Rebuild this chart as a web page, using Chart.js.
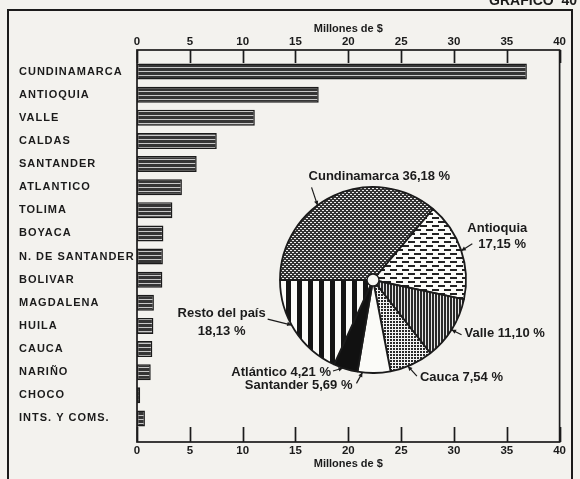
<!DOCTYPE html>
<html>
<head>
<meta charset="utf-8">
<script src="https://cdn.jsdelivr.net/npm/chart.js@4/dist/chart.umd.min.js"></script>
<style>
  html, body { margin: 0; padding: 0; background: #f3f2ee; }
  #wrap { position: relative; width: 580px; height: 479px; overflow: hidden; }
  #wrap canvas { position: absolute; left: 0; top: 0; }
</style>
</head>
<body>
<div id="wrap">
  <canvas id="barChart" width="580" height="479"></canvas>
  <canvas id="pieChart" width="580" height="479"></canvas>
</div>
<script>
// bar chart: amounts by department (millones de $)
const departments = ['CUNDINAMARCA', 'ANTIOQUIA', 'VALLE', 'CALDAS', 'SANTANDER', 'ATLANTICO', 'TOLIMA', 'BOYACA',
  'N. DE SANTANDER', 'BOLIVAR', 'MAGDALENA', 'HUILA', 'CAUCA', 'NARIÑO', 'CHOCO', 'INTS. Y COMS.'];
const amounts = [36.9, 17.2, 11.15, 7.55, 5.65, 4.25, 3.35, 2.5, 2.45, 2.4, 1.6, 1.55, 1.45, 1.3, 0.3, 0.75];
const axisTicks = [0, 5, 10, 15, 20, 25, 30, 35, 40];

// pie chart: share of total (%)
const pieLabels = ['Cundinamarca', 'Antioquia', 'Valle', 'Cauca', 'Santander', 'Atlántico', 'Resto del país'];
const pieShares = [36.18, 17.15, 11.10, 7.54, 5.69, 4.21, 18.13];

const ink = '#1b1b1b';
const paper = '#f3f2ee';
const labelFont = '"Liberation Sans", Arial, sans-serif';

function makePattern(w, h, paint) {
  const c = document.createElement('canvas');
  c.width = w; c.height = h;
  const g = c.getContext('2d');
  paint(g);
  return g.createPattern(c, 'repeat');
}

const barStripes = makePattern(1, 4, g => {
  g.fillStyle = '#353535'; g.fillRect(0, 0, 1, 3);
  g.fillStyle = '#c8c8c8'; g.fillRect(0, 3, 1, 1);
});
const dotted = makePattern(4, 4, g => {
  g.fillStyle = '#333'; g.fillRect(0, 0, 4, 4);
  g.fillStyle = '#eee'; g.fillRect(0, 0, 2, 1); g.fillRect(2, 2, 2, 1);
});
const dashes = makePattern(12, 8, g => {
  g.fillStyle = '#fbfbf8'; g.fillRect(0, 0, 12, 8);
  g.fillStyle = '#222'; g.fillRect(0, 1, 7, 2); g.fillRect(6, 5, 6, 2); g.fillRect(0, 5, 1, 2);
});
const fineLines = makePattern(3, 1, g => {
  g.fillStyle = '#2a2a2a'; g.fillRect(0, 0, 2, 1);
  g.fillStyle = '#e8e8e8'; g.fillRect(2, 0, 1, 1);
});
const stipple = makePattern(3, 3, g => {
  g.fillStyle = '#f4f4f4'; g.fillRect(0, 0, 3, 3);
  g.fillStyle = '#2a2a2a'; g.fillRect(0, 0, 2, 2);
});
const wideStripes = makePattern(11, 1, g => {
  g.fillStyle = '#fbfbf8'; g.fillRect(0, 0, 11, 1);
  g.fillStyle = '#151515'; g.fillRect(0, 0, 5, 1);
});

const framePlugin = {
  id: 'frame',
  beforeDraw(chart) {
    const { ctx, width, height } = chart;
    ctx.save();
    ctx.fillStyle = paper;
    ctx.fillRect(0, 0, width, height);
    ctx.strokeStyle = ink;
    ctx.lineWidth = 2;
    ctx.strokeRect(8, 10, 564, height + 10);
    ctx.fillStyle = ink;
    ctx.font = 'bold 14px ' + labelFont;
    ctx.textAlign = 'right';
    ctx.textBaseline = 'alphabetic';
    ctx.fillText('GRAFICO  40', 577, 5);
    ctx.restore();
  },
  beforeDatasetsDraw(chart) {
    const { ctx, chartArea: a, scales } = chart;
    const top = a.top - 10, bottom = a.bottom + 12;
    ctx.save();
    ctx.strokeStyle = ink;
    ctx.lineWidth = 1.7;
    ctx.strokeRect(a.left, top, a.right - a.left, bottom - top);
    ctx.beginPath();
    scales.x.ticks.forEach(t => {
      const px = Math.round(scales.x.getPixelForValue(t.value)) + 0.5;
      ctx.moveTo(px, top); ctx.lineTo(px, top + 13);
      ctx.moveTo(px, bottom - 15); ctx.lineTo(px, bottom);
    });
    ctx.stroke();
    ctx.restore();
  },
  // department names are drawn after the bars (ticks z: 1), spaced out like the print
  afterDatasetsDraw(chart) { chart.ctx.letterSpacing = '1px'; },
  afterDraw(chart) { chart.ctx.letterSpacing = '0px'; }
};

const valueAxis = (position, fit, tickPad, titlePad) => ({
  type: 'linear',
  position,
  min: 0,
  max: 40,
  afterBuildTicks: s => { s.ticks = axisTicks.map(v => ({ value: v })); },
  grid: { display: false, drawTicks: false },
  border: { display: false },
  ticks: { padding: tickPad, color: ink, font: { family: labelFont, size: 11.5, weight: 'bold' } },
  title: { display: true, text: 'Millones de $', color: ink, padding: titlePad,
    font: { family: labelFont, size: 11, weight: 'bold' } },
  afterFit: s => { s.height = fit; }
});

new Chart(document.getElementById('barChart'), {
  type: 'bar',
  data: {
    labels: departments,
    datasets: [{
      data: amounts,
      xAxisID: 'x',
      backgroundColor: barStripes,
      borderColor: ink,
      borderWidth: 1.5,
      borderSkipped: false,
      barPercentage: 0.69,
      categoryPercentage: 1
    }]
  },
  options: {
    indexAxis: 'y',
    responsive: false,
    animation: false,
    events: [],
    layout: { padding: { left: 19, right: 17, top: 0, bottom: 0 } },
    plugins: { legend: { display: false }, tooltip: { enabled: false } },
    scales: {
      y: {
        grid: { display: false, drawTicks: false },
        border: { display: false },
        ticks: { crossAlign: 'far', padding: 0, z: 1, color: ink,
          font: { family: labelFont, size: 11, weight: 'bold' } },
        afterFit: s => { s.width = 118; }
      },
      x: valueAxis('bottom', 49, 14, { top: 0, bottom: 8 }),
      x2: valueAxis('top', 60, 11, { top: 22, bottom: 0 })
    }
  },
  plugins: [framePlugin]
});

// where each pie caption sits: t = position along the slice, offsets from the rim point
const pieLabelLayout = [
  { t: 0.41, align: 'left', text: [[-9, -29]], lead: [-6, -18] },
  { t: 0.51, align: 'left', text: [[6, -22], [17, -6]], lead: [11, -7] },
  { t: 0.51, align: 'left', text: [[13, 4]], lead: [10, 5] },
  { t: 0.59, align: 'left', text: [[12, 11]], lead: [9, 10] },
  { t: 0.85, align: 'right', text: [[-10, 13]], lead: [-6, 11] },
  { t: 0.61, align: 'right', text: [[-12, 4]], lead: [-10, 3] },
  { t: 0.556, align: 'center', text: [[-70, -12], [-70, 6]], lead: [-24, -6] }
];

const pct = v => v.toFixed(2).replace('.', ',') + ' %';

const pieCaptions = {
  id: 'pieCaptions',
  afterDraw(chart) {
    const ctx = chart.ctx;
    const arcs = chart.getDatasetMeta(0).data;
    let cx = 0, cy = 0;
    ctx.save();
    ctx.fillStyle = ink;
    ctx.strokeStyle = ink;
    ctx.lineWidth = 1.2;
    ctx.font = 'bold 13px ' + labelFont;
    ctx.textBaseline = 'middle';
    arcs.forEach((arc, i) => {
      const { x, y, startAngle, endAngle, outerRadius } =
        arc.getProps(['x', 'y', 'startAngle', 'endAngle', 'outerRadius'], true);
      cx = x; cy = y;
      const L = pieLabelLayout[i];
      const ang = startAngle + (endAngle - startAngle) * L.t;
      const px = x + Math.cos(ang) * outerRadius;
      const py = y + Math.sin(ang) * outerRadius;
      const qx = px + L.lead[0], qy = py + L.lead[1];
      ctx.beginPath(); ctx.moveTo(qx, qy); ctx.lineTo(px, py); ctx.stroke();
      const d = Math.atan2(py - qy, px - qx);
      ctx.beginPath();
      ctx.moveTo(px, py);
      ctx.lineTo(px - 5 * Math.cos(d - 0.45), py - 5 * Math.sin(d - 0.45));
      ctx.lineTo(px - 5 * Math.cos(d + 0.45), py - 5 * Math.sin(d + 0.45));
      ctx.closePath(); ctx.fill();
      const lines = L.text.length > 1 ? [pieLabels[i], pct(pieShares[i])] : [pieLabels[i] + ' ' + pct(pieShares[i])];
      ctx.textAlign = L.align;
      lines.forEach((s, k) => ctx.fillText(s, px + L.text[k][0], py + L.text[k][1]));
    });
    // hub
    ctx.beginPath();
    ctx.arc(cx, cy, 6, 0, Math.PI * 2);
    ctx.fillStyle = '#f6f6f2';
    ctx.fill();
    ctx.lineWidth = 1.4;
    ctx.stroke();
    ctx.restore();
  }
};

new Chart(document.getElementById('pieChart'), {
  type: 'pie',
  data: {
    labels: pieLabels,
    datasets: [{
      data: pieShares,
      backgroundColor: [dotted, dashes, fineLines, stipple, '#fbfbf8', '#111', wideStripes],
      borderColor: ink,
      borderWidth: 1.8
    }]
  },
  options: {
    responsive: false,
    animation: false,
    events: [],
    rotation: -90,
    radius: 93,
    layout: { padding: { left: 280, right: 114, top: 187, bottom: 106 } },
    plugins: { legend: { display: false }, tooltip: { enabled: false } }
  },
  plugins: [pieCaptions]
});
</script>
</body>
</html>
